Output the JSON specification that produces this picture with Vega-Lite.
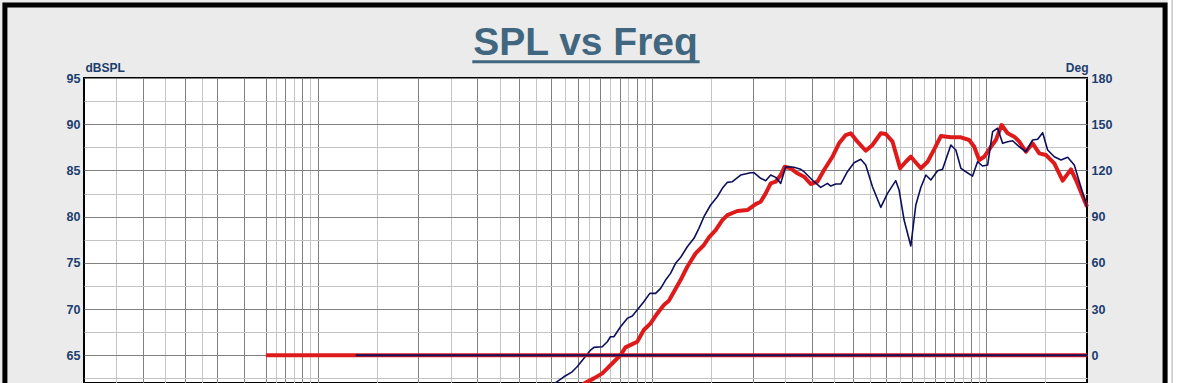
{
  "$schema": "https://vega.github.io/schema/vega-lite/v6.json",
  "width": 1003,
  "height": 305,
  "autosize": {"type": "none"},
  "padding": {"left": 84, "top": 78, "right": 90, "bottom": 0},
  "background": "#ebebeb",
  "config": {"view": {"fill": "#ffffff", "stroke": "#000000", "strokeWidth": 2}},
  "datasets": {
    "spl": [
      {"f": 470, "db": 61.0, "s": "trace1"}, {"f": 514, "db": 62.02, "s": "trace1"}, {"f": 545, "db": 62.67, "s": "trace1"}, {"f": 577, "db": 63.21, "s": "trace1"}, {"f": 597, "db": 63.76, "s": "trace1"}, {"f": 625, "db": 64.66, "s": "trace1"}, {"f": 655, "db": 65.56, "s": "trace1"}, {"f": 670, "db": 65.85, "s": "trace1"}, {"f": 710, "db": 65.92, "s": "trace1"}, {"f": 735, "db": 66.46, "s": "trace1"}, {"f": 751, "db": 67.0, "s": "trace1"}, {"f": 769, "db": 67.0, "s": "trace1"}, {"f": 805, "db": 68.08, "s": "trace1"}, {"f": 843, "db": 68.99, "s": "trace1"}, {"f": 873, "db": 69.24, "s": "trace1"}, {"f": 903, "db": 69.89, "s": "trace1"}, {"f": 945, "db": 70.79, "s": "trace1"}, {"f": 985, "db": 71.7, "s": "trace1"}, {"f": 1025, "db": 71.7, "s": "trace1"}, {"f": 1061, "db": 72.24, "s": "trace1"}, {"f": 1098, "db": 73.14, "s": "trace1"}, {"f": 1136, "db": 73.86, "s": "trace1"}, {"f": 1176, "db": 74.95, "s": "trace1"}, {"f": 1217, "db": 75.57, "s": "trace1"}, {"f": 1275, "db": 76.74, "s": "trace1"}, {"f": 1335, "db": 77.65, "s": "trace1"}, {"f": 1381, "db": 78.73, "s": "trace1"}, {"f": 1430, "db": 79.99, "s": "trace1"}, {"f": 1497, "db": 81.26, "s": "trace1"}, {"f": 1568, "db": 82.15, "s": "trace1"}, {"f": 1623, "db": 83.06, "s": "trace1"}, {"f": 1680, "db": 83.71, "s": "trace1"}, {"f": 1739, "db": 83.78, "s": "trace1"}, {"f": 1841, "db": 84.5, "s": "trace1"}, {"f": 1972, "db": 84.75, "s": "trace1"}, {"f": 2018, "db": 84.75, "s": "trace1"}, {"f": 2113, "db": 84.15, "s": "trace1"}, {"f": 2188, "db": 83.89, "s": "trace1"}, {"f": 2264, "db": 84.5, "s": "trace1"}, {"f": 2344, "db": 84.25, "s": "trace1"}, {"f": 2426, "db": 83.6, "s": "trace1"}, {"f": 2511, "db": 85.4, "s": "trace1"}, {"f": 2659, "db": 85.34, "s": "trace1"}, {"f": 2784, "db": 85.12, "s": "trace1"}, {"f": 2849, "db": 84.86, "s": "trace1"}, {"f": 3052, "db": 83.78, "s": "trace1"}, {"f": 3196, "db": 83.17, "s": "trace1"}, {"f": 3347, "db": 83.6, "s": "trace1"}, {"f": 3424, "db": 83.31, "s": "trace1"}, {"f": 3545, "db": 83.53, "s": "trace1"}, {"f": 3668, "db": 83.53, "s": "trace1"}, {"f": 3841, "db": 84.86, "s": "trace1"}, {"f": 4021, "db": 85.83, "s": "trace1"}, {"f": 4211, "db": 86.2, "s": "trace1"}, {"f": 4358, "db": 85.58, "s": "trace1"}, {"f": 4564, "db": 83.24, "s": "trace1"}, {"f": 4833, "db": 81.01, "s": "trace1"}, {"f": 5062, "db": 82.52, "s": "trace1"}, {"f": 5359, "db": 83.89, "s": "trace1"}, {"f": 5483, "db": 82.88, "s": "trace1"}, {"f": 5675, "db": 79.63, "s": "trace1"}, {"f": 5944, "db": 76.82, "s": "trace1"}, {"f": 6152, "db": 81.26, "s": "trace1"}, {"f": 6368, "db": 83.15, "s": "trace1"}, {"f": 6592, "db": 84.5, "s": "trace1"}, {"f": 6823, "db": 83.96, "s": "trace1"}, {"f": 7145, "db": 84.97, "s": "trace1"}, {"f": 7396, "db": 85.12, "s": "trace1"}, {"f": 7831, "db": 87.75, "s": "trace1"}, {"f": 8106, "db": 87.21, "s": "trace1"}, {"f": 8391, "db": 85.23, "s": "trace1"}, {"f": 8683, "db": 84.86, "s": "trace1"}, {"f": 9094, "db": 84.39, "s": "trace1"}, {"f": 9413, "db": 85.94, "s": "trace1"}, {"f": 9743, "db": 85.48, "s": "trace1"}, {"f": 10086, "db": 85.58, "s": "trace1"}, {"f": 10440, "db": 89.19, "s": "trace1"}, {"f": 10805, "db": 89.56, "s": "trace1"}, {"f": 11185, "db": 87.93, "s": "trace1"}, {"f": 11578, "db": 88.11, "s": "trace1"}, {"f": 11983, "db": 88.21, "s": "trace1"}, {"f": 12544, "db": 87.56, "s": "trace1"}, {"f": 13134, "db": 87.02, "s": "trace1"}, {"f": 13752, "db": 88.29, "s": "trace1"}, {"f": 14236, "db": 88.37, "s": "trace1"}, {"f": 14737, "db": 89.08, "s": "trace1"}, {"f": 15252, "db": 87.21, "s": "trace1"}, {"f": 15966, "db": 86.48, "s": "trace1"}, {"f": 16722, "db": 86.13, "s": "trace1"}, {"f": 17508, "db": 86.42, "s": "trace1"}, {"f": 18323, "db": 85.58, "s": "trace1"}, {"f": 18967, "db": 83.78, "s": "trace1"}, {"f": 20000, "db": 81.07, "s": "trace1"},
      {"f": 590, "db": 61.4, "s": "trace2"}, {"f": 640, "db": 62.13, "s": "trace2"}, {"f": 670, "db": 62.5, "s": "trace2"}, {"f": 710, "db": 63.04, "s": "trace2"}, {"f": 735, "db": 63.58, "s": "trace2"}, {"f": 769, "db": 64.3, "s": "trace2"}, {"f": 805, "db": 65.02, "s": "trace2"}, {"f": 833, "db": 65.85, "s": "trace2"}, {"f": 873, "db": 66.21, "s": "trace2"}, {"f": 903, "db": 66.46, "s": "trace2"}, {"f": 945, "db": 67.73, "s": "trace2"}, {"f": 990, "db": 68.45, "s": "trace2"}, {"f": 1037, "db": 69.53, "s": "trace2"}, {"f": 1085, "db": 70.43, "s": "trace2"}, {"f": 1123, "db": 70.9, "s": "trace2"}, {"f": 1163, "db": 71.87, "s": "trace2"}, {"f": 1217, "db": 73.14, "s": "trace2"}, {"f": 1275, "db": 74.58, "s": "trace2"}, {"f": 1350, "db": 76.03, "s": "trace2"}, {"f": 1430, "db": 76.93, "s": "trace2"}, {"f": 1480, "db": 77.76, "s": "trace2"}, {"f": 1550, "db": 78.55, "s": "trace2"}, {"f": 1623, "db": 79.63, "s": "trace2"}, {"f": 1680, "db": 80.17, "s": "trace2"}, {"f": 1800, "db": 80.61, "s": "trace2"}, {"f": 1928, "db": 80.71, "s": "trace2"}, {"f": 2042, "db": 81.36, "s": "trace2"}, {"f": 2113, "db": 81.61, "s": "trace2"}, {"f": 2188, "db": 82.52, "s": "trace2"}, {"f": 2264, "db": 83.6, "s": "trace2"}, {"f": 2344, "db": 83.78, "s": "trace2"}, {"f": 2426, "db": 84.5, "s": "trace2"}, {"f": 2494, "db": 85.4, "s": "trace2"}, {"f": 2599, "db": 85.23, "s": "trace2"}, {"f": 2721, "db": 84.69, "s": "trace2"}, {"f": 2849, "db": 84.32, "s": "trace2"}, {"f": 2983, "db": 83.53, "s": "trace2"}, {"f": 3124, "db": 83.78, "s": "trace2"}, {"f": 3270, "db": 85.04, "s": "trace2"}, {"f": 3465, "db": 86.48, "s": "trace2"}, {"f": 3626, "db": 87.93, "s": "trace2"}, {"f": 3796, "db": 88.83, "s": "trace2"}, {"f": 3930, "db": 89.02, "s": "trace2"}, {"f": 4116, "db": 88.11, "s": "trace2"}, {"f": 4358, "db": 87.13, "s": "trace2"}, {"f": 4564, "db": 87.75, "s": "trace2"}, {"f": 4833, "db": 89.02, "s": "trace2"}, {"f": 5003, "db": 88.94, "s": "trace2"}, {"f": 5241, "db": 88.11, "s": "trace2"}, {"f": 5521, "db": 85.23, "s": "trace2"}, {"f": 5742, "db": 85.94, "s": "trace2"}, {"f": 5944, "db": 86.48, "s": "trace2"}, {"f": 6368, "db": 85.23, "s": "trace2"}, {"f": 6671, "db": 85.94, "s": "trace2"}, {"f": 6981, "db": 87.28, "s": "trace2"}, {"f": 7310, "db": 88.72, "s": "trace2"}, {"f": 7831, "db": 88.58, "s": "trace2"}, {"f": 8391, "db": 88.58, "s": "trace2"}, {"f": 8883, "db": 88.29, "s": "trace2"}, {"f": 9197, "db": 87.56, "s": "trace2"}, {"f": 9518, "db": 86.13, "s": "trace2"}, {"f": 9851, "db": 86.48, "s": "trace2"}, {"f": 10318, "db": 87.56, "s": "trace2"}, {"f": 10679, "db": 88.29, "s": "trace2"}, {"f": 11108, "db": 89.91, "s": "trace2"}, {"f": 11578, "db": 89.02, "s": "trace2"}, {"f": 12118, "db": 88.65, "s": "trace2"}, {"f": 12544, "db": 88.11, "s": "trace2"}, {"f": 13134, "db": 87.02, "s": "trace2"}, {"f": 13752, "db": 87.93, "s": "trace2"}, {"f": 14396, "db": 86.85, "s": "trace2"}, {"f": 15075, "db": 86.67, "s": "trace2"}, {"f": 15966, "db": 85.77, "s": "trace2"}, {"f": 16914, "db": 83.89, "s": "trace2"}, {"f": 17910, "db": 85.12, "s": "trace2"}, {"f": 18539, "db": 83.96, "s": "trace2"}, {"f": 20000, "db": 81.07, "s": "trace2"}
    ],
    "phase": [
      {"f": 70, "deg": 0, "s": "trace2"}, {"f": 20000, "deg": 0, "s": "trace2"},
      {"f": 130, "deg": 0, "s": "trace1"}, {"f": 20000, "deg": 0, "s": "trace1"}
    ]
  },
  "layer": [
    {
      "data": {"values": [{}]},
      "layer": [
        {
          "mark": {"type": "rect", "filled": false, "color": "#000000", "stroke": "#000000", "strokeWidth": 5},
          "encoding": {
            "x": {"datum": 11.6, "type": "quantitative", "scale": {"type": "log", "domain": [20, 20000], "nice": false}, "axis": null},
            "x2": {"datum": 34240},
            "y": {"datum": 102.9, "type": "quantitative", "scale": {"domain": [62, 95], "nice": false, "zero": false}, "axis": null},
            "y2": {"datum": 30}
          }
        },
        {
          "mark": {"type": "rect", "color": "#ffffff", "fill": "#ffffff", "strokeWidth": 0},
          "encoding": {
            "x": {"datum": 34956, "type": "quantitative", "scale": {"type": "log", "domain": [20, 20000], "nice": false}, "axis": null},
            "x2": {"datum": 200000},
            "y": {"datum": 110, "type": "quantitative", "scale": {"domain": [62, 95], "nice": false, "zero": false}, "axis": null},
            "y2": {"datum": 30}
          }
        },
        {
          "mark": {"type": "rule", "color": "#a8a8a8", "strokeWidth": 1},
          "encoding": {
            "x": {"datum": 35940, "type": "quantitative", "scale": {"type": "log", "domain": [20, 20000], "nice": false}, "axis": null},
            "y": {"datum": 110, "type": "quantitative", "scale": {"domain": [62, 95], "nice": false, "zero": false}, "axis": null},
            "y2": {"datum": 30}
          }
        },
        {
          "mark": {"type": "text", "text": "SPL vs Freq", "font": "Liberation Sans", "fontSize": 39, "fontWeight": "bold", "color": "#41667f", "align": "center", "baseline": "alphabetic"},
          "encoding": {
            "x": {"datum": 632.5, "type": "quantitative", "scale": {"type": "log", "domain": [20, 20000], "nice": false}, "axis": null},
            "y": {"datum": 97.49, "type": "quantitative", "scale": {"domain": [62, 95], "nice": false, "zero": false}, "axis": null}
          }
        },
        {
          "mark": {"type": "rule", "color": "#41667f", "strokeWidth": 3},
          "encoding": {
            "x": {"datum": 290, "type": "quantitative", "scale": {"type": "log", "domain": [20, 20000], "nice": false}, "axis": null},
            "x2": {"datum": 1388},
            "y": {"datum": 96.77, "type": "quantitative", "scale": {"domain": [62, 95], "nice": false, "zero": false}, "axis": null}
          }
        }
      ]
    },
    {
      "data": {"name": "spl"},
      "layer": [
        {
          "transform": [{"filter": "datum.s == 'trace2'"}],
          "mark": {"type": "line", "color": "#de1a1a", "strokeWidth": 4, "strokeJoin": "round"},
          "encoding": {
            "x": {"field": "f", "type": "quantitative", "scale": {"type": "log", "domain": [20, 20000], "nice": false},
              "axis": {"orient": "bottom", "values": [30, 40, 50, 60, 70, 80, 90, 100, 200, 300, 400, 500, 600, 700, 800, 900, 1000, 2000, 3000, 4000, 5000, 6000, 7000, 8000, 9000, 10000],
                "grid": true, "gridWidth": 1, "gridColor": "#808080",
                "labels": false, "ticks": false, "domain": false, "title": null}},
            "y": {"field": "db", "type": "quantitative", "scale": {"domain": [62, 95], "nice": false, "zero": false},
              "axis": {"orient": "left", "values": [65, 70, 75, 80, 85, 90, 95],
                "grid": true, "gridWidth": 1, "gridColor": "#808080",
                "ticks": false, "tickSize": 0, "domain": false, "labelOverlap": false,
                "labelFont": "Liberation Sans", "labelFontSize": 12.5, "labelFontWeight": "bold", "labelColor": "#1c3d6e", "labelPadding": 4,
                "title": "dBSPL", "titleAngle": 0, "titleX": 1, "titleY": -7, "titleAlign": "left", "titleBaseline": "alphabetic",
                "titleFont": "Liberation Sans", "titleFontSize": 12, "titleFontWeight": "bold", "titleColor": "#1c3d6e"}}
          }
        },
        {
          "transform": [{"filter": "datum.s == 'trace1'"}],
          "mark": {"type": "line", "color": "#0e0e5c", "strokeWidth": 1.6, "strokeJoin": "round"},
          "encoding": {
            "x": {"field": "f", "type": "quantitative", "scale": {"type": "log", "domain": [20, 20000], "nice": false},
              "axis": {"orient": "bottom", "values": [25, 35, 45, 75, 85, 95, 150, 250, 350, 450, 550, 650, 750, 850, 950, 1500, 2500, 3500, 4500, 5500, 6500, 7500, 8500, 9500, 15000],
                "grid": true, "gridWidth": 1, "gridColor": "#c4c4c4",
                "labels": false, "ticks": false, "domain": false, "title": null}},
            "y": {"field": "db", "type": "quantitative", "scale": {"domain": [62, 95], "nice": false, "zero": false},
              "axis": {"orient": "left", "values": [62.5, 67.5, 72.5, 77.5, 82.5, 87.5, 92.5],
                "grid": true, "gridWidth": 1, "gridColor": "#c4c4c4",
                "labels": false, "ticks": false, "tickSize": 0, "domain": false, "title": null}}
          }
        }
      ],
      "resolve": {"axis": {"x": "independent", "y": "independent"}}
    },
    {
      "data": {"name": "phase"},
      "layer": [
        {
          "transform": [{"filter": "datum.s == 'trace2'"}],
          "mark": {"type": "line", "color": "#de1a1a", "strokeWidth": 4}
        },
        {
          "transform": [{"filter": "datum.s == 'trace1'"}],
          "mark": {"type": "line", "color": "#10105e", "strokeWidth": 2.2}
        }
      ],
      "encoding": {
        "x": {"field": "f", "type": "quantitative", "scale": {"type": "log", "domain": [20, 20000], "nice": false}, "axis": null},
        "y": {"field": "deg", "type": "quantitative", "scale": {"domain": [-18, 180], "nice": false, "zero": false},
          "axis": {"orient": "right", "values": [0, 30, 60, 90, 120, 150, 180], "grid": false, "ticks": false, "tickSize": 0, "domain": false, "labelOverlap": false,
            "labelFont": "Liberation Sans", "labelFontSize": 12.5, "labelFontWeight": "bold", "labelColor": "#1c3d6e", "labelPadding": 4,
            "title": "Deg", "titleAngle": 0, "titleX": 1, "titleY": -7, "titleAlign": "right", "titleBaseline": "alphabetic",
            "titleFont": "Liberation Sans", "titleFontSize": 12, "titleFontWeight": "bold", "titleColor": "#1c3d6e"}}
      }
    }
  ],
  "resolve": {"scale": {"y": "independent"}, "axis": {"y": "independent", "x": "independent"}}
}
